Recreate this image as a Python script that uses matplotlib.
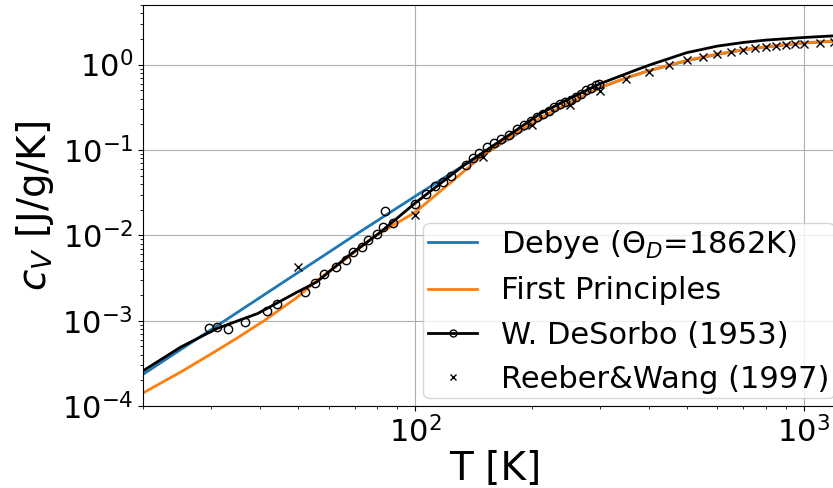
import matplotlib
matplotlib.use("Agg")
import matplotlib.pyplot as plt
from matplotlib.lines import Line2D

# Debye model, Theta_D = 1862 K
debye_T = [20, 30, 40, 50, 60, 70, 80, 100, 120, 135, 150, 175, 200, 250, 300,
           350, 400, 500, 600, 700, 800, 900, 1000, 1100, 1300]
debye_cv = [2.35e-4, 7.9e-4, 1.87e-3, 3.65e-3, 6.3e-3, 0.0100, 0.0148, 0.0285,
            0.0485, 0.068, 0.088, 0.135, 0.20, 0.355, 0.54, 0.70, 0.85, 1.11,
            1.32, 1.49, 1.61, 1.71, 1.79, 1.84, 1.92]

# first-principles (phonon) heat capacity
fp_T = [20, 25, 30, 35, 41, 50, 56, 65, 79.4, 100, 120, 148, 175, 211, 250,
        300, 350, 400, 455, 500, 600, 700, 800, 900, 1000, 1100, 1300]
fp_cv = [1.42e-4, 2.5e-4, 4.1e-4, 6.3e-4, 1.0e-3, 1.9e-3, 2.95e-3, 4.9e-3,
         0.0100, 0.0185, 0.037, 0.0834, 0.14, 0.24, 0.36, 0.54, 0.70, 0.85,
         1.00, 1.12, 1.33, 1.50, 1.62, 1.72, 1.80, 1.85, 1.93]

# DeSorbo (1953): smoothed curve and measured points
ds_T = [20, 25, 31, 39.4, 50, 56, 67, 81, 100, 134, 180, 211, 250, 300,
        381, 404, 500, 600, 700, 800, 1000, 1300]
ds_cv = [2.58e-4, 4.9e-4, 8.1e-4, 1.21e-3, 2.18e-3, 2.85e-3, 5.6e-3, 0.0106,
         0.0237, 0.0667, 0.164, 0.27, 0.40, 0.60, 0.908, 1.0, 1.38, 1.65,
         1.82, 1.94, 2.08, 2.22]

ds_pts_T = [29.5, 31.0, 33.1, 36.6, 41.7, 44.2, 52.2, 55.3, 58.3, 62.6, 66.5,
            69.4, 73.1, 75.9, 79.8, 82.7, 83.7, 87.7, 100, 107, 112.6, 118.2,
            123.8, 135.3, 141.5, 146.4, 153, 160, 167, 175, 183.5, 191, 198.7,
            206.7, 214, 221, 228, 236, 244, 252, 260, 268, 276, 284, 292, 298]
ds_pts_cv = [8.1e-4, 8.45e-4, 7.9e-4, 9.7e-4, 1.30e-3, 1.56e-3, 2.18e-3,
             2.73e-3, 3.48e-3, 4.28e-3, 5.13e-3, 6.3e-3, 7.2e-3, 8.8e-3,
             0.0104, 0.0124, 0.0192, 0.0140, 0.0233, 0.0302, 0.0379, 0.0426,
             0.0496, 0.0667, 0.0798, 0.0914, 0.109, 0.120, 0.134, 0.150, 0.175,
             0.196, 0.221, 0.242, 0.264, 0.289, 0.317, 0.347, 0.369, 0.39,
             0.42, 0.45, 0.50, 0.53, 0.57, 0.60]

# Reeber & Wang (1997)
rw_T = [50, 100, 150, 200, 250, 300, 350, 400, 450, 500, 550, 600, 650, 700,
        750, 800, 850, 900, 950, 1000, 1100, 1200]
rw_cv = [4.3e-3, 0.0173, 0.082, 0.194, 0.34, 0.497, 0.68, 0.83, 0.99, 1.12,
         1.22, 1.34, 1.42, 1.50, 1.56, 1.62, 1.66, 1.70, 1.73, 1.76, 1.81, 1.84]

plt.rcParams["font.size"] = 22

fig = plt.figure(figsize=(8.33, 4.88), dpi=100)
ax = fig.add_axes([143 / 833, 82 / 488, 705 / 833, 401 / 488])

ax.plot(debye_T, debye_cv, color="tab:blue", lw=2)
ax.plot(fp_T, fp_cv, color="tab:orange", lw=2)
ax.plot(ds_T, ds_cv, color="k", lw=2)
ax.plot(ds_pts_T, ds_pts_cv, "o", color="k", mfc="none", ms=6, mew=1)
ax.plot(rw_T, rw_cv, "x", color="k", ms=6, mew=1)

ax.set_xscale("log")
ax.set_yscale("log")
ax.set_xlim(20, 1300)
ax.set_ylim(1e-4, 5)
ax.grid(True)
ax.set_xlabel("T [K]", fontsize=28, labelpad=1)
ax.set_ylabel("$c_V$ [J/g/K]", fontsize=28)

handles = [
    Line2D([], [], color="tab:blue", lw=2),
    Line2D([], [], color="tab:orange", lw=2),
    Line2D([], [], color="k", lw=2, marker="o", mfc="none", ms=5, mew=1),
    Line2D([], [], color="k", ls="none", marker="x", ms=5, mew=1),
]
labels = [r"Debye ($\Theta_D$=1862K)", "First Principles",
          "W. DeSorbo (1953)", "Reeber&Wang (1997)"]
ax.legend(handles, labels, loc="lower right", bbox_to_anchor=(0.9915, 0.0),
          fontsize=22, handlelength=1.6, labelspacing=0.5, borderpad=0.15,
          borderaxespad=0.25)

fig.savefig("out.png", dpi=100)
